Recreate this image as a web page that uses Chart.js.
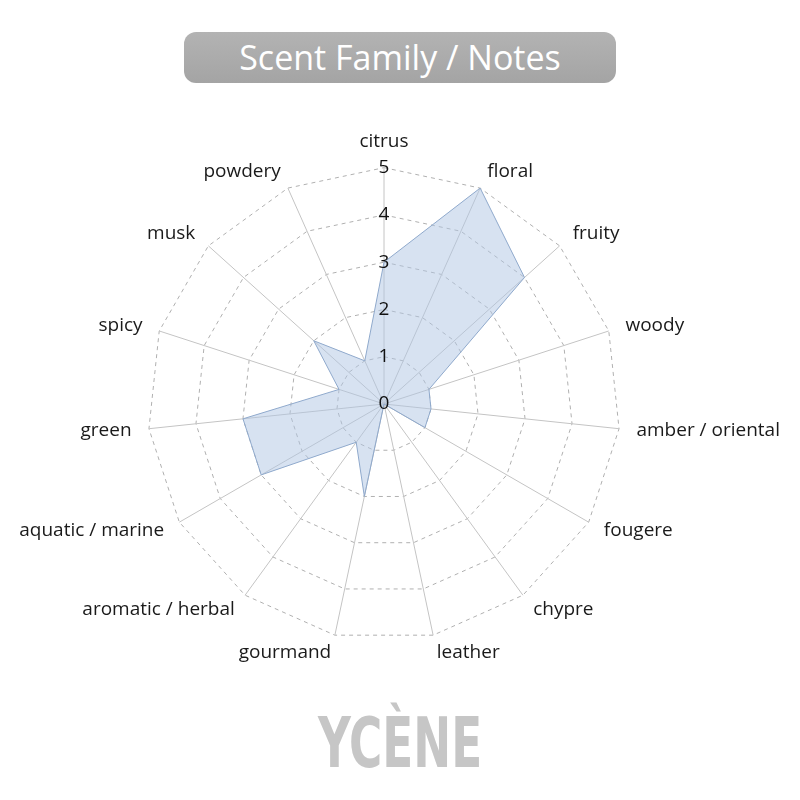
<!DOCTYPE html>
<html>
<head>
<meta charset="utf-8">
<script src="https://cdn.jsdelivr.net/npm/chart.js@4"></script>
<style>
  html, body { margin:0; padding:0; background:#fff; width:800px; height:800px; overflow:hidden; }
  #title { position:absolute; left:184px; top:32px; width:432px; height:51px; border-radius:12px;
    background:linear-gradient(#b3b3b3,#a4a4a4); color:#fff; font-family:"Open Sans",sans-serif;
    font-size:34px; line-height:51px; text-align:center; }
  #wrap { position:absolute; left:-11px; top:108px; width:826px; height:580px; }
  #brand { position:absolute; left:0; width:800px; top:703px; text-align:center; }
  #brand span { display:inline-block; color:#c6c6c6; font-family:"DejaVu Sans",sans-serif; font-weight:bold;
    font-stretch:condensed; font-size:70px; line-height:80px; transform:scaleX(0.72); }
</style>
</head>
<body>
<div id="title">Scent Family / Notes</div>
<div id="wrap"><canvas id="c"></canvas></div>
<div id="brand"><span>YCÈNE</span></div>
<script>
const categories = ["citrus","floral","fruity","woody","amber / oriental","fougere","chypre","leather","gourmand","aromatic / herbal","aquatic / marine","green","spicy","musk","powdery"];
const values = [3,5,4,1,1,1,0,0,2,1,3,3,1,2,1];
const tickMin = 0, tickMax = 5, tickStep = 1;

const zeroLabel = {
  id: 'zeroLabel',
  afterDatasetsDraw(chart) {
    const s = chart.scales.r;
    const ctx = chart.ctx;
    ctx.save();
    ctx.font = '19px "Open Sans", sans-serif';
    ctx.fillStyle = '#111';
    ctx.textAlign = 'center';
    ctx.textBaseline = 'middle';
    ctx.fillText(String(tickMin), s.xCenter, s.yCenter);
    ctx.restore();
  }
};

new Chart(document.getElementById('c'), {
  type: 'radar',
  data: {
    labels: categories,
    datasets: [{
      data: values,
      backgroundColor: 'rgba(176,198,228,0.5)',
      borderColor: '#8fa9cc',
      borderWidth: 1,
      pointRadius: 0,
      fill: true
    }]
  },
  options: {
    responsive: true,
    maintainAspectRatio: false,
    animation: false,
    layout: { padding: { top: 0, bottom: 0, left: 17, right: 17 } },
    plugins: { legend: { display: false }, tooltip: { enabled: false } },
    scales: {
      r: {
        min: tickMin, max: tickMax,
        ticks: { stepSize: tickStep, color: '#111', font: { size: 19, family: '"Open Sans", sans-serif' }, showLabelBackdrop: false, z: 1 },
        grid: { color: '#b0b0b0', lineWidth: 1 },
        border: { dash: [4, 4] },
        angleLines: { color: '#c4c4c4', lineWidth: 1 },
        pointLabels: {
          color: '#1a1a1a',
          font: { size: 19, family: '"Open Sans", sans-serif', lineHeight: 0.01 },
          padding: (ctx) => ctx.index === 0 ? 14 : 6
        }
      }
    }
  },
  plugins: [zeroLabel]
});
</script>
</body>
</html>
